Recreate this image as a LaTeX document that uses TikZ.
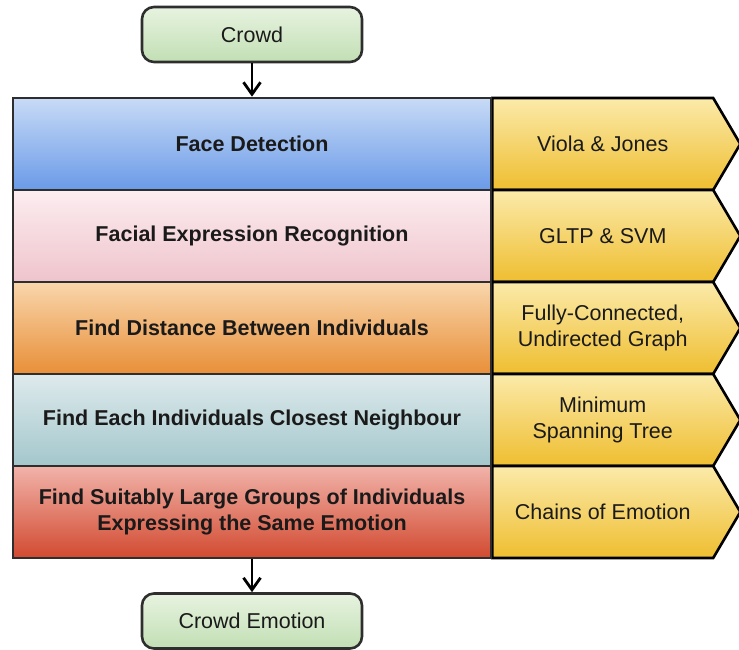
\documentclass[tikz,border=0pt]{standalone}
\usepackage{fontspec}
\setmainfont{Liberation Sans}
\usetikzlibrary{arrows.meta,shapes.symbols}

% stage fills (top / bottom of each vertical gradient)
\definecolor{blueTop}{HTML}{C8DBF6}\definecolor{blueBot}{HTML}{6A9AE8}
\definecolor{pinkTop}{HTML}{FCEDF0}\definecolor{pinkBot}{HTML}{EFC4CC}
\definecolor{orngTop}{HTML}{F9D6AC}\definecolor{orngBot}{HTML}{E88F38}
\definecolor{tealTop}{HTML}{DEEAEC}\definecolor{tealBot}{HTML}{A3C7CC}
\definecolor{redTop}{HTML}{F1B3AA}\definecolor{redBot}{HTML}{D24A30}
\definecolor{yelTop}{HTML}{FBEAAA}\definecolor{yelBot}{HTML}{EFBE30}
\definecolor{grnTop}{HTML}{E7F3E0}\definecolor{grnBot}{HTML}{C2DFB4}
\definecolor{edge}{HTML}{2E2E2E}
\definecolor{ink}{HTML}{1A1A1A}

\begin{document}
\begin{tikzpicture}[x=1pt,y=-1pt,
  txt/.style={font=\fontsize{21.5}{26}\selectfont, text=ink, align=center},
  stage/.style={txt, font=\fontsize{21.5}{26}\selectfont\bfseries,
    draw=edge, line width=2.6pt, rectangle,
    minimum width=478pt, minimum height=92pt, inner sep=0pt},
  method/.style={txt, signal, signal to=east, signal pointer angle=119,
    draw=black, line width=2.6pt, top color=yelTop, bottom color=yelBot,
    minimum width=248pt, minimum height=92pt, inner sep=0pt, anchor=west},
  io/.style={txt, draw=edge, line width=2.6pt, rounded corners=12pt,
    top color=grnTop, bottom color=grnBot,
    minimum width=220pt, minimum height=55pt, inner sep=0pt},
  flow/.style={draw=black, line width=2.8pt,
    -{Straight Barb[length=12pt,width=17pt,line width=2.8pt]}}
]
\useasboundingbox (0,0) rectangle (739,650);

% input and output
\node[io] (crowd) at (252,34.5) {Crowd};
\node[io] (result) at (252,621) {Crowd Emotion};

% methods (drawn first so the stage borders sit on top)
\node[method] (m1) at (491,144) {Viola \& Jones};
\node[method] (m2) at (491,236) {GLTP \& SVM};
\node[method] (m3) at (491,328) {Fully-Connected,\\Undirected Graph};
\node[method] (m4) at (491,420) {Minimum\\Spanning Tree};
\node[method] (m5) at (491,512) {Chains of Emotion};

% pipeline stages
\node[stage, top color=blueTop, bottom color=blueBot] (s1) at (252,144)
  {Face Detection};
\node[stage, top color=pinkTop, bottom color=pinkBot] (s2) at (252,236)
  {Facial Expression Recognition};
\node[stage, top color=orngTop, bottom color=orngBot] (s3) at (252,328)
  {Find Distance Between Individuals};
\node[stage, top color=tealTop, bottom color=tealBot] (s4) at (252,420)
  {Find Each Individuals Closest Neighbour};
\node[stage, top color=redTop, bottom color=redBot] (s5) at (252,512)
  {Find Suitably Large Groups of Individuals\\Expressing the Same Emotion};

% flow
\draw[flow] (crowd.south) -- (s1.north);
\draw[flow] (s5.south) -- (result.north);
\end{tikzpicture}
\end{document}
